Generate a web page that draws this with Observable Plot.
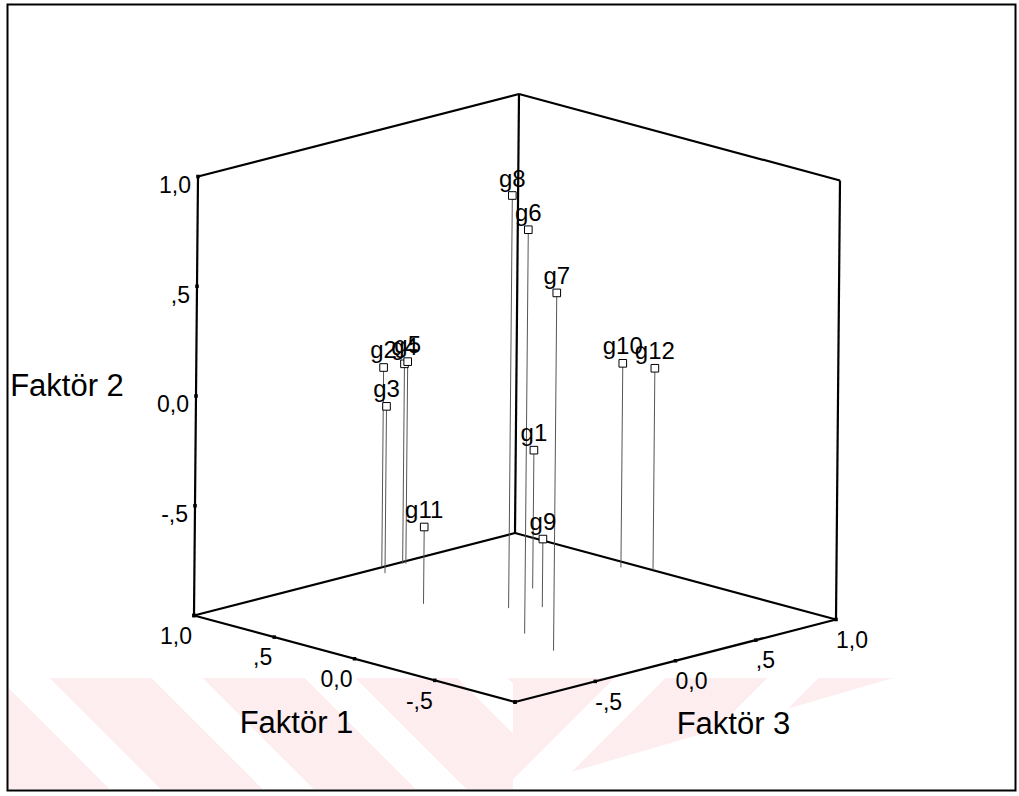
<!DOCTYPE html>
<html>
<head>
<meta charset="utf-8">
<script src="https://cdn.jsdelivr.net/npm/d3@7"></script>
<script src="https://cdn.jsdelivr.net/npm/@observablehq/plot@0.6"></script>
<style>
  body { margin: 0; background: #fff; }
  #wrap { position: relative; width: 1019px; height: 796px; overflow: hidden; }
  .wm { position: absolute; top: 678px; height: 111px; }
  #wmL { left: 8px; width: 505px;
    background: repeating-linear-gradient(45deg, rgba(240,110,130,0.12) 0 72px, rgba(255,255,255,0) 72px 108px); }
  #wmR { left: 513px; width: 380px;
    background: repeating-linear-gradient(135deg, rgba(240,110,130,0.12) 0 72px, rgba(255,255,255,0) 72px 108px);
    clip-path: polygon(0 0, 100% 0, 0 100%); }
  #chart { position: absolute; left: 0; top: 0; }
</style>
</head>
<body>
<div id="wrap"><div id="wmL" class="wm"></div><div id="wmR" class="wm"></div><div id="chart"></div></div>
<script>
// ---- data (factor loadings) ----
const labels  = ["g1", "g2", "g3", "g4", "g5", "g6", "g7", "g8", "g9", "g10", "g11", "g12"];
const faktor1 = [0.29, 1.00, 0.92, 0.98, 0.97, -0.22, -0.51, 0.13, 0.04, 0.27, 0.44, 0.14];
const faktor2 = [-0.37, -0.09, -0.24, -0.09, -0.08, 0.84, 0.63, 0.88, -0.69, -0.07, -0.65, -0.08];
const faktor3 = [0.40, 0.17, 0.11, 0.28, 0.29, -0.16, -0.27, 0.09, 0.21, 0.93, -0.13, 1.00];

const tickValues = [-0.5, 0, 0.5, 1.0];
const tickLabels = ["-,5", "0,0", ",5", "1,0"];
const tickDots   = [-1, -0.5, 0, 0.5, 1];
const axisTitles = ["Faktör 1", "Faktör 2", "Faktör 3"];
const lo = -1, hi = 1;

// ---- oblique projection of the cube [-1,1]^3 onto the page plane ----
const U1 = [-160.5, 43.25];  // per unit of Faktör 1
const U3 = [160.5, 41.25];   // per unit of Faktör 3
const U2 = [2, 219.5];       // per unit of Faktör 2 (vertical)
function proj(f1, f2, f3) {
  return {
    x: U1[0] * f1 + U3[0] * f3 + U2[0] * (f2 - lo),
    y: U1[1] * f1 + U3[1] * f3 + U2[1] * (f2 - lo)
  };
}

const pts = labels.map((label, i) => {
  const p = proj(faktor1[i], faktor2[i], faktor3[i]);
  const b = proj(faktor1[i], lo, faktor3[i]);
  return {label, x: p.x, y: p.y, bx: b.x, by: b.y};
});

// cube edges (visible back walls + floor)
const C = (f1, f2, f3) => proj(f1, f2, f3);
const edgePairs = [
  [C(hi, lo, lo), C(hi, hi, lo)],   // left vertical
  [C(hi, lo, hi), C(hi, hi, hi)],   // back vertical
  [C(lo, lo, hi), C(lo, hi, hi)],   // right vertical
  [C(hi, hi, lo), C(hi, hi, hi)],   // top left
  [C(hi, hi, hi), C(lo, hi, hi)],   // top right
  [C(hi, lo, lo), C(hi, lo, hi)],   // floor back left
  [C(hi, lo, hi), C(lo, lo, hi)],   // floor back right
  [C(hi, lo, lo), C(lo, lo, lo)],   // Faktör 1 axis
  [C(lo, lo, lo), C(lo, lo, hi)]    // Faktör 3 axis
].map(([a, b]) => ({x1: a.x, y1: a.y, x2: b.x, y2: b.y}));

const dots = [
  ...tickDots.map(v => C(hi, v, lo)),
  ...tickDots.map(v => C(v, lo, lo)),
  ...tickDots.map(v => C(lo, lo, v))
];

const lab2 = tickValues.map((v, i) => ({...C(hi, v, lo), t: tickLabels[i]}));
const lab1 = tickValues.map((v, i) => ({...C(v, lo, lo), t: tickLabels[i]}));
const lab3 = tickValues.map((v, i) => ({...C(lo, lo, v), t: tickLabels[i]}));

const font = "Liberation Sans, Arial, Helvetica, sans-serif";
const cx = 514.5, cy = 617;   // page position of the floor centre
const W = 1019, H = 796, mT = 4, mR = 4, mB = 6, mL = 7;

const chart = Plot.plot({
  width: W, height: H,
  marginTop: mT, marginRight: mR, marginBottom: mB, marginLeft: mL,
  x: {domain: [mL - cx, W - mR - cx], axis: null},
  y: {domain: [cy - (H - mB), cy - mT], axis: null},
  style: {background: "transparent", fontFamily: font},
  marks: [
    Plot.frame({stroke: "#000", strokeWidth: 2}),
    Plot.link(edgePairs, {x1: "x1", y1: "y1", x2: "x2", y2: "y2", stroke: "#000", strokeWidth: 2.2}),
    Plot.dot(dots, {x: "x", y: "y", symbol: "square", r: 2, fill: "#000"}),
    Plot.link(pts, {x1: "bx", y1: "by", x2: "x", y2: "y", stroke: "#555", strokeWidth: 1}),
    Plot.dot(pts, {x: "x", y: "y", symbol: "square", r: 4.3, fill: "#fff", stroke: "#000", strokeWidth: 1}),
    Plot.text(pts, {x: "x", y: "y", text: "label", fontSize: 24, fill: "#000", lineAnchor: "bottom", dy: -9}),
    Plot.text(lab2, {x: "x", y: "y", text: "t", fontSize: 23, fill: "#000", textAnchor: "end", lineAnchor: "top", dx: -7, dy: 0}),
    Plot.text(lab1, {x: "x", y: "y", text: "t", fontSize: 23, fill: "#000", textAnchor: "end", lineAnchor: "top", dx: -2, dy: 12}),
    Plot.text(lab3, {x: "x", y: "y", text: "t", fontSize: 23, fill: "#000", textAnchor: "start", lineAnchor: "top", dx: 0, dy: 12}),
    Plot.text([C(0, lo, lo)], {x: "x", y: "y", text: [axisTitles[0]], fontSize: 31, fill: "#000", dx: -58, dy: 64}),
    Plot.text([C(hi, 0, lo)], {x: "x", y: "y", text: [axisTitles[1]], fontSize: 31, fill: "#000", dx: -129, dy: -10}),
    Plot.text([C(lo, lo, 0)], {x: "x", y: "y", text: [axisTitles[2]], fontSize: 31, fill: "#000", dx: 58, dy: 63})
  ]
});
document.getElementById("chart").appendChild(chart);
</script>
</body>
</html>
